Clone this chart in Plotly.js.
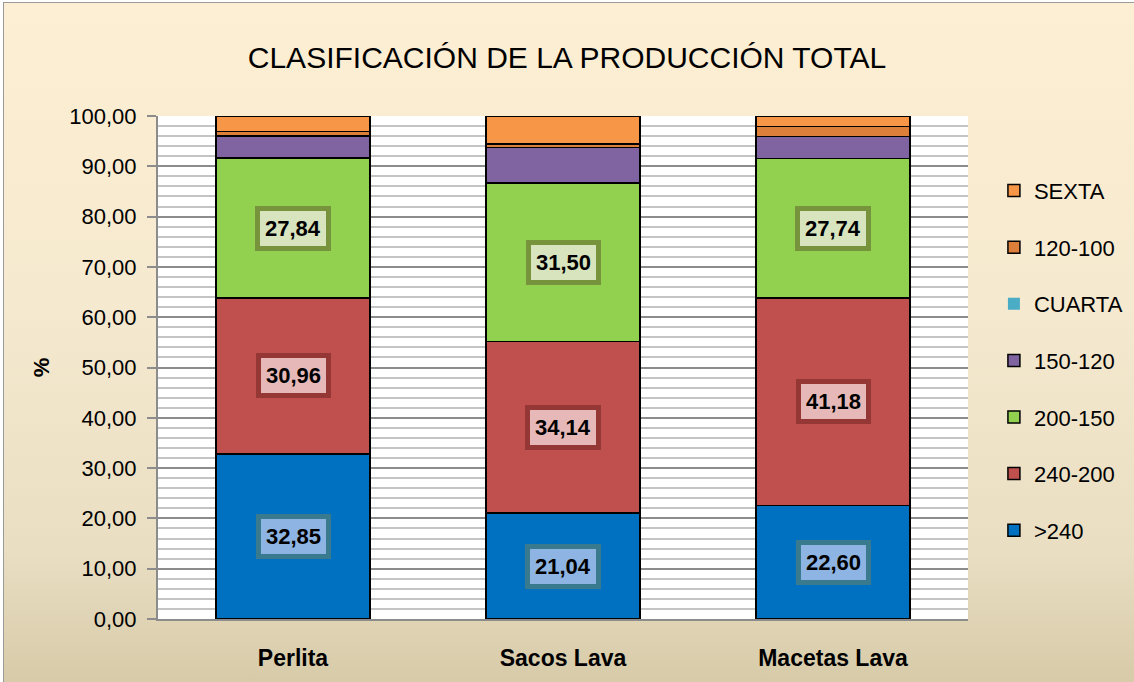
<!DOCTYPE html>
<html>
<head>
<meta charset="utf-8">
<script src="https://cdn.plot.ly/plotly-3.0.1.min.js"></script>
<style>
html,body{margin:0;padding:0;width:1134px;height:682px;overflow:hidden;background:#fff;}
#frame{position:absolute;left:3px;top:2px;width:1200px;height:720px;border:1.5px solid #9a9a9a;
background:linear-gradient(to bottom,#fdefd3 0px,#f5e9cf 300px,#e9dec2 550px,#d6caa8 682px);}
#chart{position:absolute;left:0;top:0;width:1134px;height:682px;}
</style>
</head>
<body>
<div id="frame"></div>
<div id="chart"></div>
<script>
const categories = ["Perlita", "Sacos Lava", "Macetas Lava"];
const seriesNames = [">240", "240-200", "200-150", "150-120", "CUARTA", "120-100", "SEXTA"];
const v_gt240   = [32.85, 21.04, 22.60];
const v_240_200 = [30.96, 34.14, 41.18];
const v_200_150 = [27.84, 31.50, 27.74];
const v_150_120 = [4.40, 7.10, 4.40];
const v_cuarta  = [0, 0, 0];
const v_120_100 = [0.90, 0.70, 2.00];
const v_sexta   = [3.05, 5.52, 2.08];
const labelledSeries = [0, 1, 2];

const allValues = [v_gt240, v_240_200, v_200_150, v_150_120, v_cuarta, v_120_100, v_sexta];
const colors = ["#0070C0", "#C0504D", "#92D050", "#8064A2", "#4BACC6", "#DC7F3B", "#F79646"];
const lineW = [1.5, 1.5, 1.5, 1.5, 0, 1.5, 1.5];
const boxBg = ["#8DB4E2", "#E6B9B8", "#D7E4BD"];
const boxBorder = ["#3A7A8E", "#953735", "#77933C"];

const traces = allValues.map((vals, i) => ({
  type: "bar",
  name: seriesNames[i],
  x: categories,
  y: vals,
  legendgroup: "g" + i,
  legendrank: 100 - i,
  marker: {color: colors[i], line: {color: "#000", width: lineW[i]}},
  hoverinfo: "skip"
}));

const fmt = v => v.toFixed(2).replace(".", ",");
const annotations = [];
labelledSeries.forEach(si => {
  categories.forEach((c, ci) => {
    let base = 0;
    for (let k = 0; k < si; k++) base += allValues[k][ci];
    const val = allValues[si][ci];
    annotations.push({
      x: c, y: base + val / 2, xref: "x", yref: "y",
      text: "<b>" + fmt(val) + "</b>", showarrow: false,
      font: {family: "Liberation Sans, Arial, sans-serif", size: 22, color: "#000"},
      bgcolor: boxBg[si], bordercolor: boxBorder[si], borderwidth: 5, borderpad: 5
    });
  });
});

const layout = {
  width: 1134, height: 682,
  paper_bgcolor: "rgba(0,0,0,0)",
  plot_bgcolor: "#ffffff",
  separators: ",.",
  barmode: "stack",
  bargap: 0.43,
  margin: {l: 158, r: 166, t: 116, b: 63, autoexpand: false},
  title: {text: "CLASIFICACIÓN DE LA PRODUCCIÓN TOTAL",
    font: {family: "Liberation Sans, Arial, sans-serif", size: 30, color: "#000"},
    x: 0.5, xanchor: "center", y: 0.915, yanchor: "middle"},
  xaxis: {
    showgrid: false, showline: true, linecolor: "#8c8c8c", linewidth: 2,
    ticks: "", tickfont: {family: "Liberation Sans, Arial, sans-serif", size: 23, color: "#000", weight: "bold"},
    ticklabelstandoff: 17
  },
  yaxis: {
    range: [0, 100], dtick: 10, tickformat: ".2f",
    showline: true, linecolor: "#8c8c8c", linewidth: 2,
    ticks: "outside", ticklen: 9, tickcolor: "#8c8c8c", tickwidth: 2,
    showgrid: true, gridcolor: "#8c8c8c", gridwidth: 2,
    minor: {dtick: 2, showgrid: true, gridcolor: "#c4c4c4", gridwidth: 2, ticks: ""},
    zeroline: false, ticklabelstandoff: 6,
    tickfont: {family: "Liberation Sans, Arial, sans-serif", size: 22, color: "#000"},
    title: {text: "<b>%</b>", font: {family: "Liberation Sans, Arial, sans-serif", size: 22, color: "#000"}, standoff: 14}
  },
  legend: {
    x: 1.032, xanchor: "left", y: 0.893, yanchor: "top",
    traceorder: "grouped", tracegroupgap: 25,
    font: {family: "Liberation Sans, Arial, sans-serif", size: 22, color: "#000"},
    bgcolor: "rgba(0,0,0,0)"
  },
  annotations: annotations,
  showlegend: true
};

Plotly.newPlot("chart", traces, layout, {displayModeBar: false, staticPlot: true});
</script>
</body>
</html>
